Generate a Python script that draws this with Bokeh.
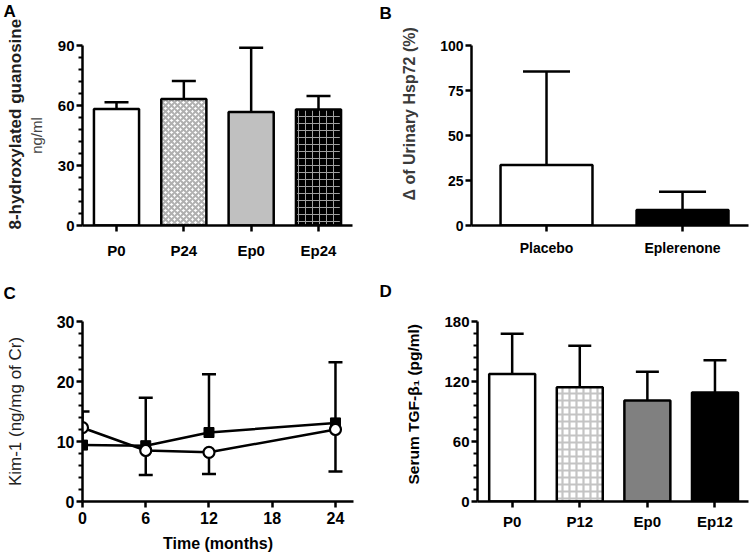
from bokeh.plotting import figure
from bokeh.models import (Range1d, FixedTicker, Whisker, TeeHead, ColumnDataSource, Title)
from bokeh.layouts import column, row
from bokeh.embed import file_html
from bokeh.resources import INLINE

FONT = "Liberation Sans"

# ---------------- data ----------------
a_categories = ["P0", "P24", "Ep0", "Ep24"]
a_means = [58.3, 63.3, 56.8, 58.0]
a_errors = [3.3, 8.9, 32.1, 6.8]
a_yticks = [0, 30, 60, 90]

b_categories = ["Placebo", "Eplerenone"]
b_means = [33.6, 8.6]
b_errors = [51.9, 10.1]
b_yticks = [0, 25, 50, 75, 100]

c_months = [0, 6, 12, 24]
c_open_means = [12.3, 8.5, 8.2, 12.0]
c_open_err_low = [0.0, 4.1, 3.6, 7.0]
c_filled_means = [9.4, 9.3, 11.5, 13.1]
c_filled_err_up = [5.6, 8.0, 9.7, 10.1]
c_xticks = [0, 6, 12, 18, 24]
c_yticks = [0, 10, 20, 30]

d_categories = ["P0", "P12", "Ep0", "Ep12"]
d_means = [127.5, 114.3, 101.0, 109.0]
d_errors = [40.2, 41.4, 28.7, 32.3]
d_yticks = [0, 60, 120, 180]


def make_fig(h, x_range, y_range, l, r, t, b):
    p = figure(width=376, height=h, x_range=Range1d(*x_range), y_range=Range1d(*y_range),
               output_backend="svg", toolbar_location=None, tools="",
               min_border_left=l, min_border_right=r, min_border_top=t, min_border_bottom=b)
    p.outline_line_color = None
    p.xgrid.visible = False
    p.ygrid.visible = False
    p.background_fill_color = "white"
    p.border_fill_color = "white"
    return p


def minor_between(ticks, n):
    out = []
    for a, b in zip(ticks[:-1], ticks[1:]):
        step = (b - a) / n
        out += [a + step * k for k in range(1, n)]
    return out


def style_axes(p, x_ticks, y_ticks, y_minor, tick_size, x_standoff, x_overrides=None):
    xa = p.xaxis[0]
    ya = p.yaxis[0]
    xa.ticker = FixedTicker(ticks=x_ticks, minor_ticks=[])
    ya.ticker = FixedTicker(ticks=y_ticks, minor_ticks=y_minor)
    for ax in (xa, ya):
        ax.axis_line_width = 2.5
        ax.axis_line_color = "black"
        ax.major_tick_line_width = 2.5
        ax.major_tick_line_color = "black"
        ax.major_tick_in = 0
        ax.major_tick_out = 6
        ax.minor_tick_line_width = 2
        ax.minor_tick_line_color = "black"
        ax.minor_tick_in = 0
        ax.minor_tick_out = 4
        ax.major_label_text_font = FONT
        ax.major_label_text_font_style = "bold"
        ax.major_label_text_font_size = f"{tick_size}px"
        ax.major_label_text_color = "black"
        ax.axis_label_standoff = 0
    xa.major_label_standoff = x_standoff
    ya.major_label_standoff = 2
    if x_overrides:
        xa.major_label_overrides = x_overrides


def axis_title(ax, text, size, standoff, style="bold", color="black"):
    ax.axis_label = text
    ax.axis_label_text_font = FONT
    ax.axis_label_text_font_size = f"{size}px"
    ax.axis_label_text_font_style = style
    ax.axis_label_text_color = color
    ax.axis_label_standoff = standoff


def panel_letter(p, letter, offset, spacer_standoff):
    # blank spacer next to the frame, then the letter on top of it
    p.add_layout(Title(text=" ", standoff=spacer_standoff, text_font=FONT,
                       text_font_size="10px"), "above")
    p.add_layout(Title(text=letter, align="left", vertical_align="top", offset=offset,
                       standoff=0, text_font=FONT, text_font_size="17px",
                       text_font_style="bold", text_color="black"), "above")


def side_title(p, text, size, offset, standoff, style="bold", color="black"):
    p.add_layout(Title(text=text, align="left", vertical_align="bottom", offset=offset,
                       standoff=standoff, text_font=FONT, text_font_size=f"{size}px",
                       text_font_style=style, text_color=color), "left")


def draw_bars(p, means, errors, fills, hatches, bar_w, cap):
    xs = list(range(1, len(means) + 1))
    for i, (x, m) in enumerate(zip(xs, means)):
        kw = dict(fill_color=fills[i], line_color="black", line_width=2.5)
        kw.update(hatches[i])
        p.vbar(x=[x], top=[m], bottom=0, width=bar_w, **kw)
    src = ColumnDataSource(dict(base=xs, lower=means,
                                upper=[m + e for m, e in zip(means, errors)]))
    p.add_layout(Whisker(source=src, base="base", lower="lower", upper="upper",
                         line_width=2.5, line_color="black",
                         upper_head=TeeHead(size=cap, line_width=2.5, line_color="black"),
                         lower_head=None))
    return xs


# ---------------- Panel A ----------------
pa = make_fig(270, (0.495, 4.505), (0, 90), 82, 24, 45, 44)
xs_a = draw_bars(pa, a_means, a_errors,
                 ["white", "white", "#c0c0c0", "black"],
                 [{}, dict(hatch_pattern="x", hatch_color="#b0b0b0",
                           hatch_scale=6, hatch_weight=2),
                  {}, dict(hatch_pattern="+", hatch_color="#a0a0a0",
                           hatch_scale=7, hatch_weight=1)],
                 0.67, 24)
style_axes(pa, xs_a, a_yticks, minor_between(a_yticks, 5), 15, 10,
           {x: c for x, c in zip(xs_a, a_categories)})
axis_title(pa.yaxis[0], "ng/ml", 15, 10, style="normal", color="#444444")
side_title(pa, "8-hydroxylated guanosine", 17, -4, 0, color="#1e1e1e")
panel_letter(pa, "A", -79, 10)

# ---------------- Panel B ----------------
pb = make_fig(270, (0.4485, 2.485), (0, 100), 95, 4, 43, 45)
xs_b = draw_bars(pb, b_means, b_errors, ["white", "black"], [{}, {}], 0.676, 47)
style_axes(pb, xs_b, b_yticks, [], 14, 8,
           {x: c for x, c in zip(xs_b, b_categories)})
side_title(pb, "\u0394 of Urinary Hsp72 (%)", 16, 25, 39, color="#3a3a3a")
panel_letter(pb, "B", -92, 8)

# ---------------- Panel C ----------------
pc = make_fig(287, (0, 25.71), (0, 30), 82, 23, 49, 56)
open_idx = [i for i, e in enumerate(c_open_err_low) if e > 0]
src_open = ColumnDataSource(dict(base=[c_months[i] for i in open_idx],
                                 lower=[c_open_means[i] - c_open_err_low[i] for i in open_idx],
                                 upper=[c_open_means[i] for i in open_idx]))
src_filled = ColumnDataSource(dict(base=c_months,
                                   lower=c_filled_means,
                                   upper=[m + e for m, e in zip(c_filled_means, c_filled_err_up)]))
pc.add_layout(Whisker(source=src_open, base="base", lower="lower", upper="upper",
                      line_width=2.5, line_color="black", level="underlay",
                      lower_head=TeeHead(size=14, line_width=2.5, line_color="black"),
                      upper_head=None))
pc.add_layout(Whisker(source=src_filled, base="base", lower="lower", upper="upper",
                      line_width=2.5, line_color="black", level="underlay",
                      upper_head=TeeHead(size=14, line_width=2.5, line_color="black"),
                      lower_head=None))
pc.line(c_months, c_filled_means, line_width=2.5, line_color="black")
pc.line(c_months, c_open_means, line_width=2.5, line_color="black")
pc.scatter(c_months, c_filled_means, marker="square", size=10,
           fill_color="black", line_color="black", line_width=1)
pc.scatter(c_months, c_open_means, marker="circle", size=11,
           fill_color="white", line_color="black", line_width=2.2)
style_axes(pc, c_xticks, c_yticks, minor_between(c_yticks, 5), 16, 4)
axis_title(pc.yaxis[0], "Kim-1 (ng/mg of Cr)", 17, 29, style="normal", color="#222222")
axis_title(pc.xaxis[0], "Time (months)", 16, 8)
panel_letter(pc, "C", -79, 4)

# ---------------- Panel D ----------------
pd_ = make_fig(287, (0.487, 4.496), (0, 180), 101, 4, 51, 56)
xs_d = draw_bars(pd_, d_means, d_errors,
                 ["white", "white", "#808080", "black"],
                 [{}, dict(hatch_pattern="+", hatch_color="#c4c4c4",
                           hatch_scale=7, hatch_weight=2.2),
                  {}, {}],
                 0.68, 23)
style_axes(pd_, xs_d, d_yticks, minor_between(d_yticks, 5), 15, 5,
           {x: c for x, c in zip(xs_d, d_categories)})
side_title(pd_, "Serum TGF-\u03b2\u2081  (pg/ml)", 15.5, 17, 40)
panel_letter(pd_, "D", -98, 6)

layout = column(row(pa, pb), row(pc, pd_))
open("out.html", "w").write(file_html(layout, INLINE))
